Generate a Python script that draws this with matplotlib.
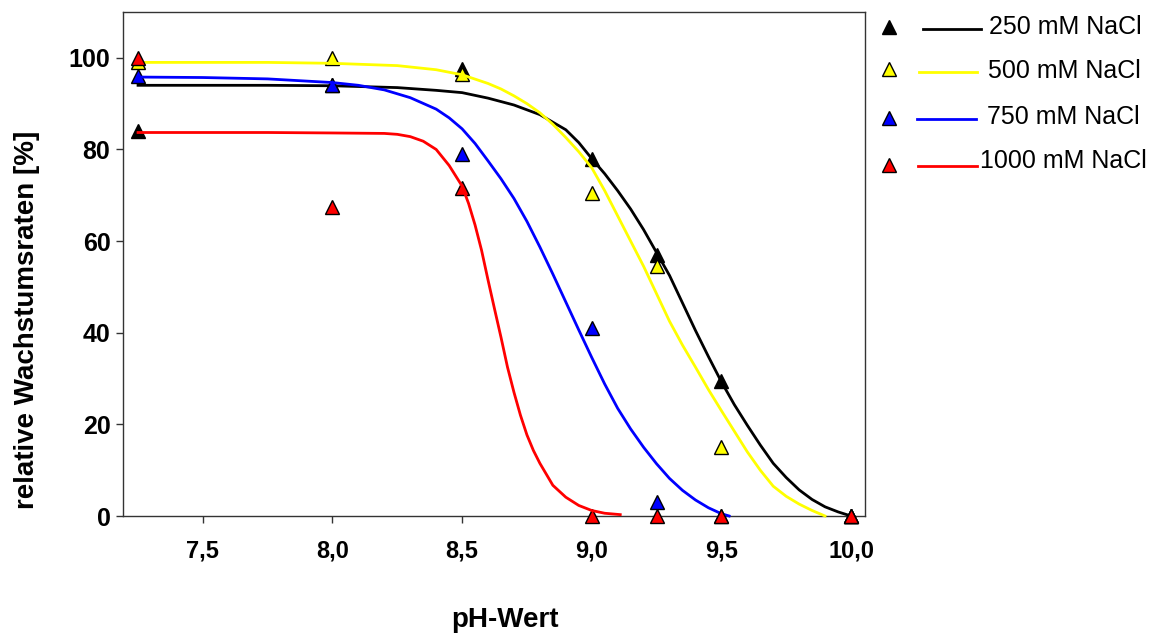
import matplotlib
matplotlib.use("Agg")
import matplotlib.pyplot as plt
from matplotlib.lines import Line2D

plt.rcParams["font.family"] = ["Liberation Sans", "DejaVu Sans"]

# measured points
ph = [7.25, 8.0, 8.5, 9.0, 9.25, 9.5, 10.0]
rate_250 = [84.0, 94.0, 97.5, 78.0, 57.0, 29.5, 0.0]
rate_500 = [99.0, 100.0, 96.5, 70.5, 54.5, 15.0, 0.0]
rate_750 = [96.0, 94.0, 79.0, 41.0, 3.0, 0.0, 0.0]
rate_1000 = [100.0, 67.5, 71.5, 0.0, 0.0, 0.0, 0.0]

# fitted curves
fit_250_x = [7.25, 7.5, 7.75, 8.0, 8.25, 8.4, 8.5, 8.6, 8.7, 8.8, 8.9, 8.95, 9.0,
             9.05, 9.1, 9.15, 9.2, 9.25, 9.3, 9.35, 9.4, 9.45, 9.5, 9.55, 9.6,
             9.65, 9.7, 9.75, 9.8, 9.85, 9.9, 9.95, 10.0]
fit_250_y = [94.0, 94.0, 94.0, 93.9, 93.5, 92.9, 92.4, 91.2, 89.7, 87.6, 84.3, 81.5, 78.0,
             74.7, 71.0, 67.0, 62.5, 57.5, 52.5, 46.5, 40.5, 34.8, 29.3, 24.3, 19.8,
             15.5, 11.5, 8.4, 5.7, 3.6, 2.0, 0.9, 0.0]

fit_500_x = [7.25, 7.5, 7.75, 8.0, 8.25, 8.4, 8.5, 8.6, 8.65, 8.7, 8.75, 8.8, 8.85,
             8.9, 8.95, 9.0, 9.05, 9.1, 9.15, 9.2, 9.25, 9.3, 9.35, 9.4, 9.45,
             9.5, 9.55, 9.6, 9.65, 9.7, 9.75, 9.8, 9.85, 9.9]
fit_500_y = [99.0, 99.0, 99.0, 98.8, 98.3, 97.4, 96.3, 94.4, 93.2, 91.7, 90.0, 88.0, 85.5,
             82.6, 79.5, 76.0, 71.0, 65.5, 60.0, 54.5, 48.5, 42.5, 37.3, 32.5, 27.6,
             23.0, 18.5, 14.0, 10.0, 6.5, 4.3, 2.6, 1.2, 0.0]

fit_750_x = [7.25, 7.5, 7.75, 8.0, 8.1, 8.2, 8.3, 8.4, 8.45, 8.5, 8.55, 8.6, 8.65,
             8.7, 8.75, 8.8, 8.85, 8.9, 8.95, 9.0, 9.05, 9.1, 9.15, 9.2, 9.25,
             9.3, 9.35, 9.4, 9.45, 9.5, 9.53]
fit_750_y = [95.8, 95.7, 95.4, 94.6, 94.0, 93.0, 91.3, 88.8, 86.9, 84.5, 81.3, 77.5, 73.6,
             69.3, 64.3, 58.7, 52.8, 46.7, 40.6, 34.6, 28.8, 23.5, 19.0, 15.0, 11.4,
             8.2, 5.6, 3.5, 1.8, 0.5, 0.0]

fit_1000_x = [7.25, 7.5, 7.75, 8.0, 8.2, 8.25, 8.3, 8.35, 8.4, 8.45, 8.5, 8.525, 8.55,
              8.575, 8.6, 8.625, 8.65, 8.675, 8.7, 8.725, 8.75, 8.775, 8.8, 8.85,
              8.9, 8.95, 9.0, 9.05, 9.11]
fit_1000_y = [83.7, 83.7, 83.7, 83.6, 83.5, 83.3, 82.8, 81.8, 80.0, 76.5, 72.0, 68.2, 63.5,
              58.0, 51.5, 45.2, 39.0, 32.5, 27.0, 22.0, 17.7, 14.3, 11.5, 6.7,
              4.1, 2.3, 1.2, 0.6, 0.3]

labels = ["250 mM NaCl", "500 mM NaCl", "750 mM NaCl", "1000 mM NaCl"]
colors = ["#000000", "#FFFF00", "#0000FF", "#FF0000"]

W, H = 1155, 636
fig = plt.figure(figsize=(W / 100, H / 100), dpi=100)
ax = fig.add_axes([123 / W, 1 - 516 / H, 742 / W, 504 / H])

series = [
    (rate_250, fit_250_x, fit_250_y),
    (rate_500, fit_500_x, fit_500_y),
    (rate_750, fit_750_x, fit_750_y),
    (rate_1000, fit_1000_x, fit_1000_y),
]
z = 3
for (pts, fx, fy), c in zip(series, colors):
    ax.plot(ph, pts, linestyle="none", marker="^", markersize=10,
            markerfacecolor=c, markeredgecolor="black", markeredgewidth=1,
            zorder=z, clip_on=False)
    ax.plot(fx, fy, color=c, lw=2, zorder=z + 0.5, clip_on=False,
            solid_joinstyle="round")
    z += 1

ax.set_xlim(7.192, 10.054)
ax.set_ylim(0, 110)
ax.set_xticks([7.5, 8.0, 8.5, 9.0, 9.5, 10.0])
ax.set_xticklabels(["7,5", "8,0", "8,5", "9,0", "9,5", "10,0"])
ax.set_yticks([0, 20, 40, 60, 80, 100])

for s in ax.spines.values():
    s.set_linewidth(1)
    s.set_color("#333333")
ax.tick_params(axis="both", direction="out", length=5, width=1, color="#333333")
ax.tick_params(axis="x", labelsize=17, pad=12)
ax.tick_params(axis="y", labelsize=18, pad=4)
for lab in ax.get_xticklabels() + ax.get_yticklabels():
    lab.set_fontweight("bold")

ax.set_ylabel("relative Wachstumsraten [%]", fontsize=20, fontweight="bold")
ax.yaxis.set_label_coords(-0.112, 0.39)
ax.set_xlabel("pH-Wert", fontsize=20, fontweight="bold")
ax.xaxis.set_label_coords(0.515, -0.18)

# legend outside the axes, marker and line drawn apart
leg_marker_y = [27, 69, 118, 165]
leg_line = [(923, 981, 29), (919, 977, 72), (917, 976, 119), (918, 977, 166)]
leg_text = [(989, 27), (988, 71), (987, 117), (980, 161)]
for i, c in enumerate(colors):
    fig.add_artist(Line2D([889 / W], [1 - leg_marker_y[i] / H], marker="^",
                          markersize=10, markerfacecolor=c,
                          markeredgecolor="black", markeredgewidth=1,
                          linestyle="none", transform=fig.transFigure))
    x0, x1, yy = leg_line[i]
    fig.add_artist(Line2D([x0 / W, x1 / W], [1 - yy / H, 1 - yy / H], color=c,
                          lw=2, transform=fig.transFigure))
    tx, ty = leg_text[i]
    fig.text(tx / W, 1 - ty / H, labels[i], fontsize=18, va="center", ha="left")

fig.savefig("out.png", dpi=100)
